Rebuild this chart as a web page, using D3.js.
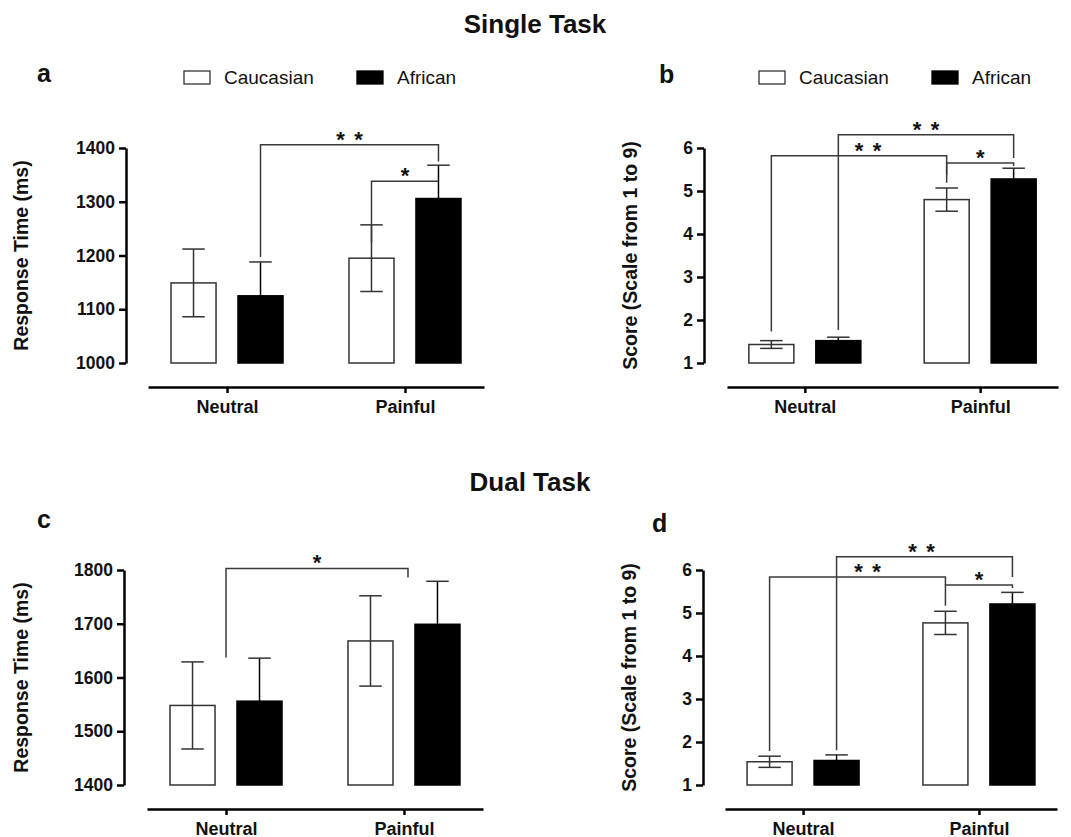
<!DOCTYPE html>
<html>
<head>
<meta charset="utf-8">
<script src="https://cdn.jsdelivr.net/npm/d3@7"></script>
<style>
  body { margin: 0; background: #fff; }
  text { font-family: "Liberation Sans", Arial, Helvetica, sans-serif; fill: #111; }
</style>
</head>
<body>
<main></main>
<script>
// groups and series
var groups = ["Neutral", "Painful"];
var series = ["Caucasian", "African"];

// one row per group: [Caucasian, African]
var singleRtMean = [[1149, 1125], [1195, 1306]];
var singleRtSem = [[63, 63], [62, 62]];
var singleScoreMean = [[1.43, 1.52], [4.80, 5.28]];
var singleScoreSem = [[0.09, 0.08], [0.27, 0.25]];
var dualRtMean = [[1548, 1556], [1668, 1699]];
var dualRtSem = [[81, 80], [84, 80]];
var dualScoreMean = [[1.54, 1.57], [4.77, 5.21]];
var dualScoreSem = [[0.13, 0.13], [0.27, 0.27]];

// tick labels
var singleRtTicks = [1000, 1100, 1200, 1300, 1400];
var dualRtTicks = [1400, 1500, 1600, 1700, 1800];
var scoreTicks = [1, 2, 3, 4, 5, 6];

// significance brackets: from / to = [group, series] (series null = group centre)
// level, foot1, foot2 are in data units
var singleRtSig = [
  {from: ["Neutral", "African"], to: ["Painful", "African"], level: 1406, foot1: 1197, foot2: 1375, stars: 2},
  {from: ["Painful", "Caucasian"], to: ["Painful", "African"], level: 1338, foot1: 1224, foot2: 1338, stars: 1}
];
var singleScoreSig = [
  {from: ["Neutral", "African"], to: ["Painful", "African"], level: 6.31, foot1: 1.77, foot2: 5.77, stars: 2},
  {from: ["Neutral", "Caucasian"], to: ["Painful", "Caucasian"], level: 5.82, foot1: 1.73, foot2: 5.38, stars: 2, dx: 9},
  {from: ["Painful", "Caucasian"], to: ["Painful", "African"], level: 5.65, foot1: 5.19, foot2: 5.58, stars: 1}
];
var dualRtSig = [
  {from: ["Neutral", null], to: ["Painful", null], level: 1803, foot1: 1637, foot2: 1786, stars: 1, dx2: 4}
];
var dualScoreSig = [
  {from: ["Neutral", "African"], to: ["Painful", "African"], level: 6.31, foot1: 1.81, foot2: 5.84, stars: 2, dx: -3},
  {from: ["Neutral", "Caucasian"], to: ["Painful", "Caucasian"], level: 5.84, foot1: 1.79, foot2: 5.65, stars: 2, dx: 10},
  {from: ["Painful", "Caucasian"], to: ["Painful", "African"], level: 5.65, foot1: 5.17, foot2: 5.58, stars: 1}
];

var w = 1071, h = 837;
var plotH = 215;
var fills = {Caucasian: "#fff", African: "#000"};

var svg = d3.select("main")
  .append("svg")
  .attr("width", w)
  .attr("height", h);

// section titles
svg.append("text").attr("x", 535).attr("y", 33).attr("text-anchor", "middle")
  .attr("font-size", "26px").attr("font-weight", "bold").text("Single Task");
svg.append("text").attr("x", 530).attr("y", 491).attr("text-anchor", "middle")
  .attr("font-size", "26px").attr("font-weight", "bold").text("Dual Task");

var panels = [
  {tag: "a", mean: singleRtMean, sem: singleRtSem, ticks: singleRtTicks, sig: singleRtSig,
   yTitle: "Response Time (ms)", axisX: 126, top: 148, tagX: 37, tagY: 82, titleX: 28,
   xr: [22, 358], legendX: 184},
  {tag: "b", mean: singleScoreMean, sem: singleScoreSem, ticks: scoreTicks, sig: singleScoreSig,
   yTitle: "Score (Scale from 1 to 9)", axisX: 704, top: 148, tagX: 659, tagY: 83, titleX: 637,
   xr: [23, 354], legendX: 759},
  {tag: "c", mean: dualRtMean, sem: dualRtSem, ticks: dualRtTicks, sig: dualRtSig,
   yTitle: "Response Time (ms)", axisX: 124, top: 570, tagX: 37, tagY: 528, titleX: 28,
   xr: [23, 359], legendX: null},
  {tag: "d", mean: dualScoreMean, sem: dualScoreSem, ticks: scoreTicks, sig: dualScoreSig,
   yTitle: "Score (Scale from 1 to 9)", axisX: 703, top: 570, tagX: 652, tagY: 532, titleX: 636,
   xr: [22, 354], legendX: null}
];

panels.forEach(function (p) {
  var g = svg.append("g");

  var y = d3.scaleLinear()
    .domain([p.ticks[0], p.ticks[p.ticks.length - 1]])
    .range([p.top + plotH, p.top]);

  var xg = d3.scalePoint()
    .domain(groups)
    .range([p.axisX + p.xr[0], p.axisX + p.xr[1]])
    .padding(0.444);

  var xs = d3.scaleBand()
    .domain(series)
    .range([-56, 56])
    .paddingInner(0.328);

  function cx(gr, s) {
    return s === null ? xg(gr) : xg(gr) + xs(s) + xs.bandwidth() / 2;
  }

  // panel letter
  g.append("text").attr("x", p.tagX).attr("y", p.tagY)
    .attr("font-size", "25px").attr("font-weight", "bold").text(p.tag);

  // y axis
  var yAxis = g.append("g")
    .attr("transform", "translate(" + p.axisX + ",0)")
    .call(d3.axisLeft(y).tickValues(p.ticks).tickSize(7).tickSizeOuter(0).tickPadding(4)
      .tickFormat(d3.format("d")));
  yAxis.select(".domain").attr("stroke", "#000").attr("stroke-width", 2.5);
  yAxis.selectAll(".tick line").attr("stroke", "#000").attr("stroke-width", 2.5);
  yAxis.selectAll(".tick text")
    .attr("font-size", "17.5px").attr("font-weight", "bold").attr("font-family", null).attr("fill", "#111");

  g.append("text")
    .attr("transform", "translate(" + p.titleX + "," + (p.top + plotH / 2) + ") rotate(-90)")
    .attr("text-anchor", "middle")
    .attr("font-size", "19.5px").attr("font-weight", "bold")
    .text(p.yTitle);

  // x axis, detached below the plot
  var xAxis = g.append("g")
    .attr("transform", "translate(0," + (p.top + plotH + 24) + ")")
    .call(d3.axisBottom(xg).tickSize(6).tickSizeOuter(0).tickPadding(7));
  xAxis.select(".domain").attr("stroke", "#000").attr("stroke-width", 2.5);
  xAxis.selectAll(".tick line").attr("stroke", "#000").attr("stroke-width", 2.5);
  xAxis.selectAll(".tick text")
    .attr("font-size", "18px").attr("font-weight", "bold").attr("font-family", null).attr("fill", "#111");

  // flatten to one record per bar
  var bars = [];
  groups.forEach(function (gr, i) {
    series.forEach(function (s, j) {
      bars.push({group: gr, series: s, mean: p.mean[i][j], sem: p.sem[i][j]});
    });
  });

  g.selectAll("rect.bar")
    .data(bars)
    .enter()
    .append("rect")
    .attr("class", "bar")
    .attr("x", function (d) { return xg(d.group) + xs(d.series); })
    .attr("y", function (d) { return y(d.mean); })
    .attr("width", xs.bandwidth())
    .attr("height", function (d) { return y(p.ticks[0]) - y(d.mean); })
    .attr("fill", function (d) { return fills[d.series]; })
    .attr("stroke", function (d) { return d.series === "African" ? "#000" : "#333"; })
    .attr("stroke-width", 1.5);

  // error bars (SEM)
  var capW = xs.bandwidth() / 2;
  var err = g.selectAll("g.err")
    .data(bars)
    .enter()
    .append("g")
    .attr("class", "err")
    .attr("stroke", function (d) { return d.series === "African" ? "#000" : "#333"; })
    .attr("stroke-width", 1.5);
  err.append("line")
    .attr("x1", function (d) { return cx(d.group, d.series); })
    .attr("x2", function (d) { return cx(d.group, d.series); })
    .attr("y1", function (d) { return y(d.mean - d.sem); })
    .attr("y2", function (d) { return y(d.mean + d.sem); });
  err.append("line")
    .attr("x1", function (d) { return cx(d.group, d.series) - capW / 2; })
    .attr("x2", function (d) { return cx(d.group, d.series) + capW / 2; })
    .attr("y1", function (d) { return y(d.mean + d.sem); })
    .attr("y2", function (d) { return y(d.mean + d.sem); })
    .attr("stroke", "#333");
  err.filter(function (d) { return d.series === "Caucasian"; })
    .append("line")
    .attr("x1", function (d) { return cx(d.group, d.series) - capW / 2; })
    .attr("x2", function (d) { return cx(d.group, d.series) + capW / 2; })
    .attr("y1", function (d) { return y(d.mean - d.sem); })
    .attr("y2", function (d) { return y(d.mean - d.sem); });

  // significance brackets
  p.sig.forEach(function (s) {
    var x1 = cx(s.from[0], s.from[1]);
    var x2 = cx(s.to[0], s.to[1]) + (s.dx2 || 0);
    g.append("path")
      .attr("d", "M" + x1 + "," + y(s.foot1) + "V" + y(s.level) + "H" + x2 + "V" + y(s.foot2))
      .attr("fill", "none")
      .attr("stroke", "#3a3a3a")
      .attr("stroke-width", 1.5);
    var mid = (x1 + x2) / 2 + (s.dx || 0);
    for (var k = 0; k < s.stars; k++) {
      g.append("text")
        .attr("x", mid + (k - (s.stars - 1) / 2) * 18)
        .attr("y", y(s.level) + 2)
        .attr("text-anchor", "middle")
        .attr("font-size", "22px").attr("font-weight", "bold")
        .text("*");
    }
  });

  // legend (top panels only)
  if (p.legendX !== null) {
    var lg = g.selectAll("g.legend")
      .data(series)
      .enter()
      .append("g")
      .attr("class", "legend")
      .attr("transform", function (d, i) { return "translate(" + (p.legendX + i * 173) + ",71)"; });
    lg.append("rect")
      .attr("width", 26).attr("height", 13)
      .attr("fill", function (d) { return fills[d]; })
      .attr("stroke", function (d) { return d === "African" ? "#000" : "#333"; })
      .attr("stroke-width", 1.3);
    lg.append("text")
      .attr("x", 40).attr("y", 13)
      .attr("font-size", "19px")
      .text(function (d) { return d; });
  }
});
</script>
</body>
</html>
